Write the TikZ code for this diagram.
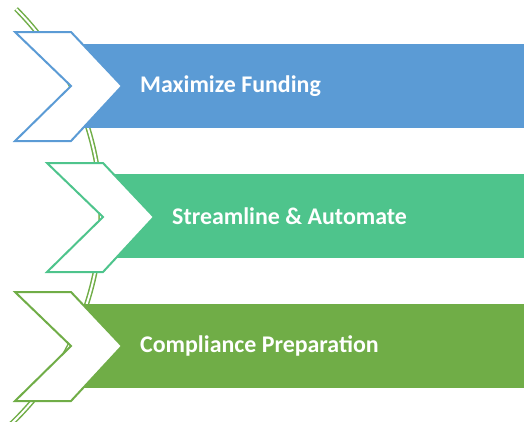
\documentclass[tikz,border=0pt]{standalone}
\usepackage{fontspec}
\setmainfont{Carlito}
\usetikzlibrary{positioning}
\definecolor{fundblue}{HTML}{5B9BD5}
\definecolor{flowteal}{HTML}{4EC48C}
\definecolor{prepgreen}{HTML}{70AD47}
\def\chevron[#1](#2,#3){\draw[#1] (#2,#3) -- ++(56,0) -- ++(51,54) -- ++(-51,55) -- ++(-56,0) -- ++(56,-55) -- cycle;}

\begin{document}
\begin{tikzpicture}[x=1bp, y=-1bp]
		%%%%% START %%%%%
		\useasboundingbox (0,0) rectangle (524,421);
		
		\draw[prepgreen, line width=1.5bp, double=white, double distance=2bp] plot[domain=-45:47, samples=80] ({-189+290*cos(\x)}, {214+290*sin(\x)});
		
		\fill[fundblue] (80,44) rectangle (524,128);
		\fill[flowteal] (110,174) rectangle (524,258);
		\fill[prepgreen] (80,304) rectangle (524,388);
		
		\chevron[fundblue, line width=2bp, fill=white](15,32);
		\chevron[flowteal, line width=2bp, fill=white](47,163);
		\chevron[prepgreen, line width=2bp, fill=white](15,292);
		
		\node[anchor=west, inner sep=0, text=white, font=\fontsize{24}{28}\selectfont\bfseries] (funding) at (140,86) {Maximize Funding};
		\node[anchor=west, inner sep=0, text=white, font=\fontsize{24}{28}\selectfont\bfseries] (automate) at (172,216) {Streamline \& Automate};
		\node[anchor=west, inner sep=0, text=white, font=\fontsize{24}{28}\selectfont\bfseries] (compliance) at (140,346) {Compliance Preparation};
		
		%%%%% END %%%%%
\end{tikzpicture}
\end{document}
